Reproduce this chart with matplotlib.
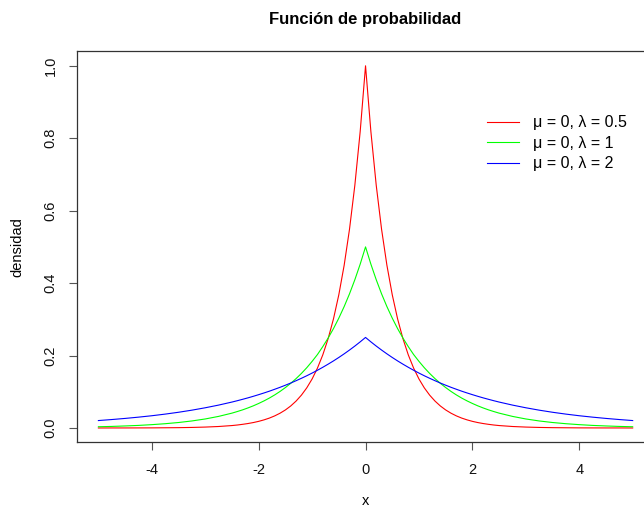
import matplotlib
matplotlib.use("Agg")
import matplotlib.pyplot as plt

plt.rcParams['font.family'] = ['Liberation Sans', 'DejaVu Sans']

# Evaluation grid (finer near the centre)
x = [-5.0, -4.75, -4.5, -4.25, -4.0, -3.75, -3.5, -3.25, -3.0, -2.75, -2.5,
     -2.4, -2.3, -2.2, -2.1, -2.0, -1.9, -1.8, -1.7, -1.6, -1.5, -1.4, -1.3,
     -1.2, -1.1, -1.0, -0.9, -0.8, -0.7, -0.6, -0.5, -0.4, -0.3, -0.2, -0.1,
     0.0,
     0.1, 0.2, 0.3, 0.4, 0.5, 0.6, 0.7, 0.8, 0.9, 1.0, 1.1, 1.2, 1.3, 1.4,
     1.5, 1.6, 1.7, 1.8, 1.9, 2.0, 2.1, 2.2, 2.3, 2.4,
     2.5, 2.75, 3.0, 3.25, 3.5, 3.75, 4.0, 4.25, 4.5, 4.75, 5.0]

# Laplace densities, mu = 0
dens_l05 = [0.0000, 0.0001, 0.0001, 0.0002, 0.0003, 0.0006, 0.0009, 0.0015, 0.0025, 0.0041, 0.0067,
            0.0082, 0.0101, 0.0123, 0.0150, 0.0183, 0.0224, 0.0273, 0.0334, 0.0408, 0.0498, 0.0608, 0.0743,
            0.0907, 0.1108, 0.1353, 0.1653, 0.2019, 0.2466, 0.3012, 0.3679, 0.4493, 0.5488, 0.6703, 0.8187,
            1.0000,
            0.8187, 0.6703, 0.5488, 0.4493, 0.3679, 0.3012, 0.2466, 0.2019, 0.1653, 0.1353, 0.1108, 0.0907,
            0.0743, 0.0608, 0.0498, 0.0408, 0.0334, 0.0273, 0.0224, 0.0183, 0.0150, 0.0123, 0.0101, 0.0082,
            0.0067, 0.0041, 0.0025, 0.0015, 0.0009, 0.0006, 0.0003, 0.0002, 0.0001, 0.0001, 0.0000]
dens_l1 = [0.0034, 0.0043, 0.0056, 0.0071, 0.0092, 0.0118, 0.0151, 0.0194, 0.0249, 0.0320, 0.0410,
           0.0454, 0.0501, 0.0554, 0.0612, 0.0677, 0.0748, 0.0826, 0.0913, 0.1009, 0.1116, 0.1233, 0.1363,
           0.1506, 0.1664, 0.1839, 0.2028, 0.2247, 0.2483, 0.2744, 0.3033, 0.3352, 0.3704, 0.4094, 0.4524,
           0.5000,
           0.4524, 0.4094, 0.3704, 0.3352, 0.3033, 0.2744, 0.2483, 0.2247, 0.2028, 0.1839, 0.1664, 0.1506,
           0.1363, 0.1233, 0.1116, 0.1009, 0.0913, 0.0826, 0.0748, 0.0677, 0.0612, 0.0554, 0.0501, 0.0454,
           0.0410, 0.0320, 0.0249, 0.0194, 0.0151, 0.0118, 0.0092, 0.0071, 0.0056, 0.0043, 0.0034]
dens_l2 = [0.0205, 0.0233, 0.0264, 0.0299, 0.0338, 0.0383, 0.0434, 0.0492, 0.0558, 0.0632, 0.0716,
           0.0753, 0.0792, 0.0832, 0.0875, 0.0920, 0.0967, 0.1016, 0.1069, 0.1123, 0.1181, 0.1241, 0.1305,
           0.1372, 0.1442, 0.1516, 0.1594, 0.1676, 0.1762, 0.1852, 0.1947, 0.2047, 0.2152, 0.2262, 0.2378,
           0.2500,
           0.2378, 0.2262, 0.2152, 0.2047, 0.1947, 0.1852, 0.1762, 0.1676, 0.1594, 0.1516, 0.1442, 0.1372,
           0.1305, 0.1241, 0.1181, 0.1123, 0.1069, 0.1016, 0.0967, 0.0920, 0.0875, 0.0832, 0.0792, 0.0753,
           0.0716, 0.0632, 0.0558, 0.0492, 0.0434, 0.0383, 0.0338, 0.0299, 0.0264, 0.0233, 0.0205]

labels = ["μ = 0, λ = 0.5", "μ = 0, λ = 1", "μ = 0, λ = 2"]
colors = ["#FF0000", "#00FF00", "#0000FF"]

x_ticks = [-4, -2, 0, 2, 4]
y_ticks = [0.0, 0.2, 0.4, 0.6, 0.8, 1.0]
y_tick_labels = ["0.0", "0.2", "0.4", "0.6", "0.8", "1.0"]

fig = plt.figure(figsize=(6.44, 5.08), dpi=100)
ax = fig.add_axes([0.1196, 0.129, 0.896, 0.770])

lines = []
for y, c in zip([dens_l05, dens_l1, dens_l2], colors):
    ln, = ax.plot(x, y, color=c, linewidth=0.8)
    lines.append(ln)

ax.set_xlim(-5.4, 5.4)
ax.set_ylim(-0.04, 1.04)
ax.set_xticks(x_ticks)
ax.set_xticklabels([str(t) for t in x_ticks])
ax.set_yticks(y_ticks)
ax.set_yticklabels(y_tick_labels, rotation=90, va='center')

for s in ax.spines.values():
    s.set_color('#333333')
    s.set_linewidth(0.9)
ax.tick_params(axis='both', length=6, width=0.8, color='#555555',
               labelsize=10.5, labelcolor='#111111', direction='out')
ax.tick_params(axis='x', pad=9)
ax.tick_params(axis='y', pad=8)

ax.set_xlabel("x", fontsize=10.5, labelpad=12)
ax.set_ylabel("densidad", fontsize=10.5, labelpad=14)
ax.set_title("Función de probabilidad", fontsize=12, fontweight='bold', pad=20)

leg = ax.legend(lines, labels, loc='upper left', bbox_to_anchor=(0.70, 0.853),
                frameon=False, fontsize=11.5, handlelength=2.0, handletextpad=0.85,
                labelspacing=0.35, borderaxespad=0.0)

fig.savefig("out.png", dpi=100)
